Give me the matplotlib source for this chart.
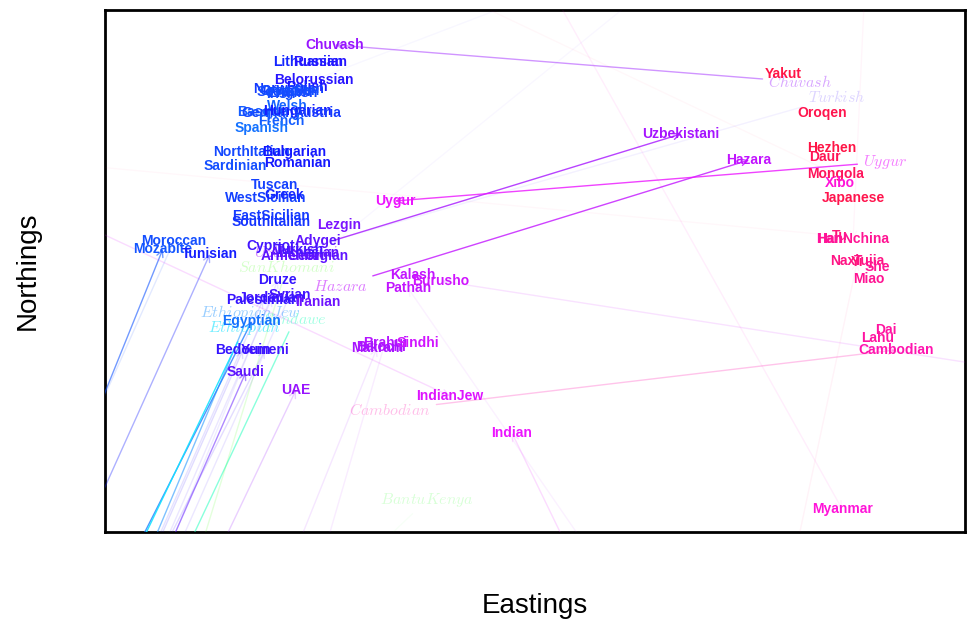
import matplotlib
matplotlib.use('Agg')
import matplotlib.pyplot as plt
from matplotlib.colors import hsv_to_rgb

plt.rcParams['font.family'] = 'Liberation Sans'
plt.rcParams['mathtext.fontset'] = 'cm'

# populations, grouped by region (same grouping in every list below)
names = ['Chuvash', 'Lithuanian', 'Russian', 'Belorussian', 'Polish', 'Norwegian', 'Scottish', 'English',
         'Irish', 'Orcadian', 'Welsh', 'Basque', 'Germany', 'Hungarian', 'Austria', 'French',
         'Spanish', 'NorthItalian', 'Bulgarian', 'Sardinian', 'Romanian', 'Tuscan', 'WestSicilian', 'Greek',
         'EastSicilian', 'SouthItalian',
         'Lezgin', 'Moroccan', 'Mozabite', 'Tunisian', 'Cypriot', 'Adygei', 'Abkhasian', 'Armenian',
         'Georgian', 'Turkish',
         'Druze', 'Syrian', 'Jordanian', 'Palestinian', 'Iranian', 'Egyptian', 'Bedouin', 'Yemeni',
         'Saudi', 'UAE',
         'Kalash', 'Burusho', 'Pathan', 'Brahui', 'Balochi', 'Makrani', 'Sindhi', 'IndianJew',
         'Indian', 'Uzbekistani', 'Hazara', 'Uygur',
         'Yakut', 'Oroqen', 'Hezhen', 'Daur', 'Mongola', 'Xibo', 'Japanese',
         'Tu', 'Han', 'HanNchina', 'Naxi', 'Yi', 'Tujia', 'She', 'Miao', 'Dai', 'Lahu', 'Cambodian', 'Myanmar',
         'EthiopianJew', 'Ethiopian', 'Sandawe', 'SanKhomani', 'BantuKenya']

# observed location
east = [230, 203, 215, 209, 202, 184, 179, 187, 176, 185, 182, 157, 167, 193, 213, 176,
        157, 147, 189, 130, 193, 170, 161, 179, 166, 166,
        234, 69, 58, 105, 166, 213, 200, 188, 213, 195,
        173, 185, 167, 158, 213, 147, 138, 160, 141, 191,
        308, 336, 303, 280, 276, 272, 313, 345, 407, 576, 644, 290,
        678, 717, 727, 720, 730, 735, 748,
        735, 724, 748, 740, 752, 764, 772, 764, 781, 772, 791, 737,
        -228, -279, -224, -165, -205]
north = [487, 470, 470, 452, 445, 443, 440, 439, 438, 441, 426, 420, 419, 421, 419, 411,
         404, 380, 380, 366, 369, 347, 334, 337, 316, 310,
         307, 291, 283, 278, 286, 291, 279, 276, 276, 282,
         252, 237, 234, 232, 230, 211, 182, 182, 160, 142,
         257, 251, 244, 189, 185, 184, 189, 136, 99, 398, 372, 331,
         458, 419, 384, 375, 358, 349, 334,
         296, 293, 293, 271, 270, 271, 265, 253, 202, 194, 182, 23,
         -668, -668, -668, -868, -468]

# colour coordinate of each population (hue)
hue = [0.76, 0.655, 0.68, 0.68, 0.67, 0.64, 0.63, 0.63, 0.625, 0.625, 0.61, 0.615, 0.63, 0.66, 0.64, 0.615,
       0.6, 0.63, 0.665, 0.625, 0.665, 0.635, 0.635, 0.655, 0.64, 0.645,
       0.74, 0.625, 0.62, 0.66, 0.7, 0.72, 0.72, 0.72, 0.72, 0.7,
       0.69, 0.7, 0.7, 0.69, 0.73, 0.6, 0.69, 0.7, 0.72, 0.76,
       0.79, 0.8, 0.79, 0.78, 0.78, 0.77, 0.8, 0.81, 0.82, 0.77, 0.79, 0.82,
       0.965, 0.96, 0.965, 0.955, 0.95, 0.86, 0.96,
       0.93, 0.9, 0.91, 0.92, 0.93, 0.92, 0.91, 0.91, 0.9, 0.9, 0.89, 0.86,
       0.58, 0.52, 0.45, 0.3, 0.33]

# predicted location (None = not drawn)
N = None
pred_east = [695, N, N, 1202, N, N, N, N, N, N, N, N, N, N, N, N,
             N, N, N, N, N, N, N, N, N, N,
             N, -360, -326, -321, N, N, N, N, 899, 732,
             -200, -215, -226, -238, N, -299, -236, -273, -223, -195,
             N, 1195, 656, 31, N, -69, N, -405, 585, 191, 235, 780,
             N, N, N, N, -268, N, N,
             -405, N, 773, N, 638, N, N, N, N, N, 285, 284,
             145, 140, 190, 182, 322]
pred_north = [450, N, N, 832, N, N, N, N, N, N, N, N, N, N, N, N,
              N, N, N, N, N, N, N, N, N, N,
              N, -668, -668, -668, N, N, N, N, 832, 435,
              -668, -668, -668, -668, N, -668, -668, -668, -668, -668,
              N, 118, -268, -668, N, -668, N, 486, -268, 280, 246, 370,
              N, N, N, N, 832, N, N,
              402, N, 832, N, -268, N, N, N, N, N, 122, 832,
              220, 205, 213, 265, 32]
weight = [0.45, 0, 0, 0.03, 0, 0, 0, 0, 0, 0, 0, 0, 0, 0, 0, 0,
          0, 0, 0, 0, 0, 0, 0, 0, 0, 0,
          0, 0.12, 0.6, 0.35, 0, 0, 0, 0, 0.03, 0.06,
          0.08, 0.1, 0.1, 0.12, 0, 0.75, 0.15, 0.15, 0.5, 0.2,
          0, 0.12, 0.06, 0.08, 0, 0.1, 0, 0.15, 0.15, 0.8, 0.8, 0.8,
          0, 0, 0, 0, 0.03, 0, 0,
          0.03, 0, 0.04, 0, 0.05, 0, 0, 0, 0, 0, 0.25, 0.07,
          0.55, 0.9, 0.5, 0.15, 0.03]

fig = plt.figure(figsize=(9.71, 6.23), dpi=100)
ax = fig.add_axes([0.108, 0.146, 0.886, 0.838])

for i, name in enumerate(names):
    c = hsv_to_rgb((hue[i], 0.92, 1.0))
    ax.text(east[i], north[i], name, color=c, fontsize=10, fontweight='bold',
            ha='center', va='center', clip_on=True, zorder=5)
    if pred_east[i] is None:
        continue
    ann = ax.annotate('$%s$' % name, xy=(east[i], north[i]),
                      xytext=(pred_east[i], pred_north[i]),
                      color=c, alpha=0.15 + 0.5 * weight[i], fontsize=11.5,
                      ha='center', va='center', annotation_clip=False, clip_on=True,
                      arrowprops=dict(arrowstyle='->', color=c, alpha=weight[i],
                                      lw=1, shrinkA=2, shrinkB=0))
    ann.arrow_patch.set_clip_path(ax.patch)

ax.set_xlim(0, 860)
ax.set_ylim(0, 522)
ax.set_xticks([])
ax.set_yticks([])
for s in ax.spines.values():
    s.set_linewidth(2)

ax.set_xlabel('Eastings', fontsize=20, labelpad=44)
ax.set_ylabel('Northings', fontsize=20, labelpad=46)

fig.savefig('out.png', dpi=100)
